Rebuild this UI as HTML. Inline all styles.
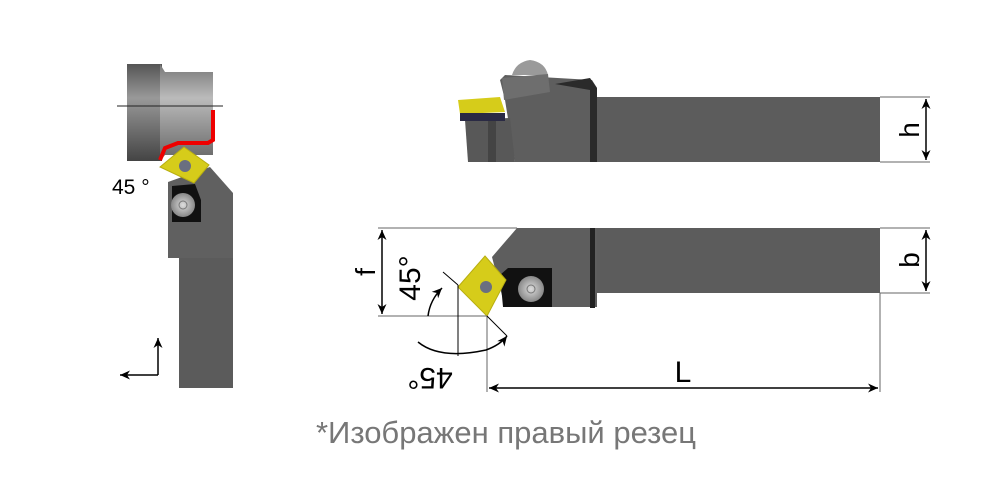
<!DOCTYPE html><html><head><style>body{margin:0;background:#fff}svg{display:block}</style></head><body>
<svg width="1000" height="500" viewBox="0 0 1000 500" xmlns="http://www.w3.org/2000/svg" font-family="Liberation Sans, sans-serif">
<defs>
<linearGradient id="cyl" x1="0" y1="0" x2="0" y2="1"><stop offset="0" stop-color="#777"/><stop offset=".35" stop-color="#bbb"/><stop offset="1" stop-color="#666"/></linearGradient>
<linearGradient id="cyl2" x1="0" y1="0" x2="0" y2="1"><stop offset="0" stop-color="#555"/><stop offset=".35" stop-color="#999"/><stop offset="1" stop-color="#444"/></linearGradient>
<radialGradient id="scr"><stop offset="0" stop-color="#ddd"/><stop offset="1" stop-color="#888"/></radialGradient>
<marker id="a" viewBox="0 0 10 10" refX="10" refY="5" markerWidth="14" markerHeight="10" markerUnits="userSpaceOnUse" orient="auto-start-reverse"><path d="M0,0.5 L10,5 L0,9.5 L3,5z" fill="#000"/></marker>
</defs>
<!-- left view -->
<rect x="127" y="64" width="35" height="97" fill="url(#cyl2)"/>
<polygon points="160,64 165,72 213,72 213,155 165,155 160,161" fill="url(#cyl)"/>
<polyline points="213,110 213,140 208,143 178,143 165,148 160,160" fill="none" stroke="#e00" stroke-width="4"/>
<line x1="117" y1="106" x2="223" y2="106" stroke="#222" stroke-width="1"/>
<polygon points="168,182 210,167 233,193 233,258 168,258" fill="#606060"/>
<rect x="179" y="258" width="54" height="130" fill="#5b5b5b"/>
<polygon points="172,186 195,184 201,200 201,222 172,222" fill="#111"/>
<circle cx="183" cy="205" r="12" fill="url(#scr)"/>
<circle cx="183" cy="205" r="4" fill="none" stroke="#777"/>
<polygon points="184,147 209,165 194,183 160,167" fill="#d6cc1a" stroke="#b8ae10"/>
<circle cx="185" cy="166" r="6" fill="#6a6f80"/>
<text x="112" y="194" font-size="21">45 °</text>
<line x1="158" y1="375" x2="158" y2="338" stroke="#000" stroke-width="1.5" marker-end="url(#a)"/>
<line x1="158" y1="375" x2="120" y2="375" stroke="#000" stroke-width="1.5" marker-end="url(#a)"/>
<!-- top side view -->
<rect x="597" y="97" width="283" height="65" fill="#5c5c5c"/>
<polygon points="500,80 505,75 592,80 597,88 597,162 515,162 505,100" fill="#5e5e5e"/>
<polygon points="555,84 590,78 597,88 597,162 590,162 590,90" fill="#2a2a2a"/>
<path d="M512,75 Q516,62 530,60 Q545,62 548,75z" fill="#9a9a9a"/>
<polygon points="502,78 548,74 550,92 504,100" fill="#6e6e6e"/>
<polygon points="465,120 510,118 515,162 468,162" fill="#585858"/>
<rect x="488" y="120" width="8" height="42" fill="#444"/>
<polygon points="458,100 500,97 505,112 460,114" fill="#d6cc1a"/>
<rect x="460" y="113" width="45" height="8" fill="#2a2a44"/>
<!-- bottom view -->
<rect x="590" y="228" width="290" height="65" fill="#5c5c5c"/>
<polygon points="517,228 597,228 597,307 505,307 492,257" fill="#5e5e5e"/>
<rect x="590" y="228" width="5" height="80" fill="#222"/>
<polygon points="500,275 508,268 552,268 552,307 503,307" fill="#111"/>
<circle cx="531" cy="289" r="13" fill="url(#scr)"/>
<circle cx="531" cy="289" r="4" fill="none" stroke="#777"/>
<polygon points="485,256 506,280 487,316 458,287" fill="#d6cc1a" stroke="#b8ae10"/>
<circle cx="486" cy="287" r="6" fill="#6a6f80"/>
<g stroke="#000" stroke-width="1" fill="none">
<line x1="378" y1="228" x2="517" y2="228" stroke="#666"/>
<line x1="378" y1="316" x2="487" y2="316" stroke="#666"/>
<line x1="382" y1="230" x2="382" y2="314" stroke-width="1.5" marker-start="url(#a)" marker-end="url(#a)"/>
<line x1="443" y1="272" x2="458" y2="285"/>
<line x1="458" y1="285" x2="458" y2="356"/>
<line x1="487" y1="316" x2="487" y2="392" stroke="#666"/>
<line x1="487" y1="316" x2="507" y2="336"/>
<path d="M428,316 Q430,300 442,288" stroke-width="1.5" marker-end="url(#a)"/>
<path d="M418,342 Q440,360 486,350 Q500,345 507,336" stroke-width="1.5" marker-end="url(#a)"/>
<line x1="880" y1="293" x2="880" y2="392" stroke="#666"/>
<line x1="489" y1="388" x2="878" y2="388" stroke-width="1.5" marker-start="url(#a)" marker-end="url(#a)"/>
<line x1="880" y1="97" x2="930" y2="97" stroke="#666"/>
<line x1="880" y1="162" x2="930" y2="162" stroke="#666"/>
<line x1="926" y1="99" x2="926" y2="160" stroke-width="1.5" marker-start="url(#a)" marker-end="url(#a)"/>
<line x1="880" y1="228" x2="930" y2="228" stroke="#666"/>
<line x1="880" y1="293" x2="930" y2="293" stroke="#666"/>
<line x1="926" y1="230" x2="926" y2="291" stroke-width="1.5" marker-start="url(#a)" marker-end="url(#a)"/>
</g>
<text transform="translate(375,272) rotate(-90)" font-size="28" text-anchor="middle">f</text>
<text transform="translate(420,278) rotate(-90)" font-size="30" text-anchor="middle">45°</text>
<text transform="translate(430,368) rotate(180)" font-size="30" text-anchor="middle">45°</text>
<text x="683" y="382" font-size="30" text-anchor="middle">L</text>
<text transform="translate(919,130) rotate(-90)" font-size="28" text-anchor="middle">h</text>
<text transform="translate(919,260) rotate(-90)" font-size="28" text-anchor="middle">b</text>
<text x="506" y="443" font-size="31" fill="#777" text-anchor="middle">*Изображен правый резец</text>
</svg></body></html>
